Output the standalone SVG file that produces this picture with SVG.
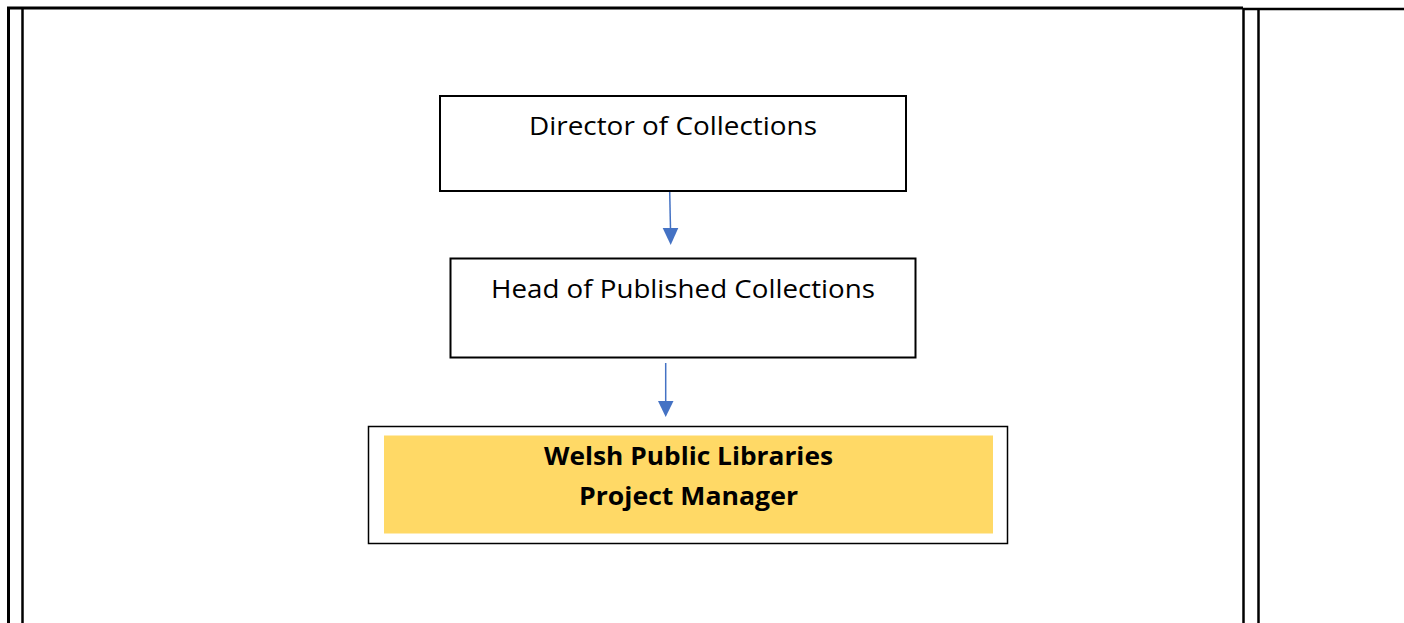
<svg xmlns="http://www.w3.org/2000/svg" width="1404" height="623" viewBox="0 0 1404 623">
<defs>
<style>
.frame{stroke:#000;fill:none}
.box{fill:#fff;stroke:#000;stroke-width:2}
.lbl{font-family:"Open Sans","Noto Sans",sans-serif;font-size:25px;fill:#000;text-anchor:middle}
.bold{font-weight:bold}
.conn{stroke:#4472C4;stroke-width:1.5;fill:none}
.head{fill:#4472C4}
</style>
</defs>
<g id="table">
<line class="frame" x1="7" y1="8" x2="1243" y2="8" stroke-width="3"/>
<line class="frame" x1="1243" y1="9" x2="1404" y2="9" stroke-width="2.5"/>
<line class="frame" x1="8.5" y1="7" x2="8.5" y2="623" stroke-width="3"/>
<line class="frame" x1="22.5" y1="8" x2="22.5" y2="623" stroke-width="2.5"/>
<line class="frame" x1="1243.5" y1="8" x2="1243.5" y2="623" stroke-width="2.5"/>
<line class="frame" x1="1258.5" y1="8" x2="1258.5" y2="623" stroke-width="2.5"/>
</g>
<g id="director">
<rect class="box" x="440" y="96" width="466" height="95"/>
<text class="lbl" x="673" y="135" textLength="288" lengthAdjust="spacingAndGlyphs">Director of Collections</text>
</g>
<g id="head">
<rect class="box" x="450.5" y="258.5" width="465" height="99"/>
<text class="lbl" x="683" y="298" textLength="384" lengthAdjust="spacingAndGlyphs">Head of Published Collections</text>
</g>
<g id="manager">
<rect x="368.5" y="426.5" width="639" height="117" fill="#fff" stroke="#000" stroke-width="1.5"/>
<rect x="384" y="435.5" width="609" height="98" fill="#FFD966"/>
<text class="lbl bold" x="688.5" y="465" textLength="289" lengthAdjust="spacingAndGlyphs">Welsh Public Libraries</text>
<text class="lbl bold" x="688.5" y="505" textLength="219" lengthAdjust="spacingAndGlyphs">Project Manager</text>
</g>
<g id="connectors">
<line class="conn" x1="669.7" y1="192" x2="670.5" y2="229"/>
<polygon class="head" points="662.7,228 678.3,228 670.7,245"/>
<line class="conn" x1="665.7" y1="363" x2="665.7" y2="402"/>
<polygon class="head" points="658,401 673.5,401 665.7,417"/>
</g>
</svg>
